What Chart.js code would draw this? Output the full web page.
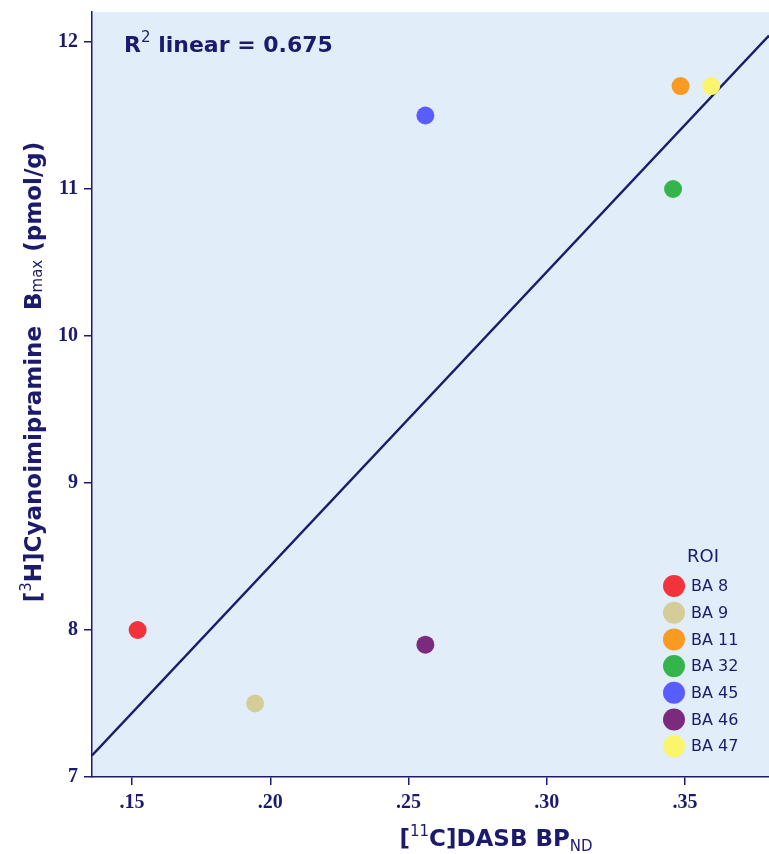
<!DOCTYPE html>
<html>
<head>
<meta charset="utf-8">
<script src="https://cdn.jsdelivr.net/npm/chart.js@4.4.0/dist/chart.umd.min.js"></script>
<style>
  html, body { margin: 0; padding: 0; background: #fff; overflow: hidden; }
  canvas { display: block; }
</style>
</head>
<body>
<canvas id="myChart" width="769" height="854"></canvas>
<script>
// data
const roiLabels = ['BA 8', 'BA 9', 'BA 11', 'BA 32', 'BA 45', 'BA 46', 'BA 47'];
const dasbBP = [0.152, 0.1945, 0.3484, 0.3457, 0.2561, 0.2561, 0.3595];
const bmax = [8.0, 7.5, 11.7, 11.0, 11.5, 7.9, 11.7];
const roiColors = ['#f1333b', '#d5cd97', '#f99a22', '#34b54b', '#5a5dfe', '#7c2a7e', '#fbf56b'];
const xTicks = [0.15, 0.20, 0.25, 0.30, 0.35];
const yTicks = [7, 8, 9, 10, 11, 12];
const xRange = [0.1355, 0.3804];
const yRange = [7, 12.204];
const r2Text = '0.675'; // as printed on the figure

const NAVY = '#1b1a6c';
const BG = '#e2edfa';

// least squares fit
function linFit(xs, ys) {
  const n = xs.length;
  const mx = xs.reduce((a, b) => a + b, 0) / n;
  const my = ys.reduce((a, b) => a + b, 0) / n;
  let sxy = 0, sxx = 0;
  for (let i = 0; i < n; i++) {
    sxy += (xs[i] - mx) * (ys[i] - my);
    sxx += (xs[i] - mx) * (xs[i] - mx);
  }
  const slope = sxy / sxx;
  return { slope: slope, icpt: my - slope * mx };
}
const fit = linFit(dasbBP, bmax);
const fitLine = xRange.map(x => ({ x: x, y: fit.icpt + fit.slope * x }));

const datasets = roiLabels.map((lab, i) => ({
  label: lab,
  data: [{ x: dasbBP[i], y: bmax[i] }],
  backgroundColor: roiColors[i],
  borderWidth: 0,
  pointRadius: 9,
  pointHoverRadius: 9,
}));
datasets.push({
  type: 'line',
  label: 'fit',
  data: fitLine,
  borderColor: NAVY,
  borderWidth: 2.5,
  pointRadius: 0,
  fill: false,
});

// draw runs of text with sup/sub parts
function drawRich(ctx, parts, x, y, align) {
  let total = 0;
  parts.forEach(p => { ctx.font = p.font; total += ctx.measureText(p.t).width; });
  let cx = align === 'center' ? x - total / 2 : x;
  parts.forEach(p => {
    ctx.font = p.font;
    ctx.fillText(p.t, cx, y + (p.dy || 0));
    cx += ctx.measureText(p.t).width;
  });
}

const decor = {
  id: 'decor',
  beforeDraw(chart) {
    const { ctx, chartArea: a } = chart;
    ctx.save();
    ctx.fillStyle = BG;
    ctx.fillRect(a.left, a.top, a.right - a.left, a.bottom - a.top);
    ctx.restore();
  },
  afterDraw(chart) {
    const { ctx } = chart;
    ctx.save();
    ctx.fillStyle = NAVY;
    ctx.textBaseline = 'alphabetic';
    const B = 'bold 23px "DejaVu Sans"';
    const S = '15px "DejaVu Sans"';

    // R2 label
    drawRich(ctx, [
      { t: 'R', font: 'bold 22px "DejaVu Sans"' },
      { t: '2', font: '15px "DejaVu Sans"', dy: -10 },
      { t: ' linear = ' + r2Text, font: 'bold 22px "DejaVu Sans"' },
    ], 124, 52, 'left');

    // x title
    drawRich(ctx, [
      { t: '[', font: B },
      { t: '11', font: S, dy: -10 },
      { t: 'C]DASB BP', font: B },
      { t: 'ND', font: S, dy: 5 },
    ], 496, 846, 'center');

    // y title
    ctx.translate(41, 372);
    ctx.rotate(-Math.PI / 2);
    drawRich(ctx, [
      { t: '[', font: B },
      { t: '3', font: S, dy: -10 },
      { t: 'H]Cyanoimipramine  B', font: B },
      { t: 'max', font: S, dy: 1 },
      { t: ' (pmol/g)', font: B },
    ], 0, 0, 'center');
    ctx.restore();

    // legend
    ctx.save();
    ctx.fillStyle = NAVY;
    ctx.textAlign = 'center';
    ctx.textBaseline = 'middle';
    ctx.font = '18px "DejaVu Sans"';
    ctx.fillText('ROI', 703, 557);
    ctx.textAlign = 'left';
    ctx.font = '16px "DejaVu Sans"';
    roiLabels.forEach((lab, i) => {
      const cy = 586 + i * 26.7;
      ctx.beginPath();
      ctx.arc(674, cy, 11, 0, Math.PI * 2);
      ctx.fillStyle = roiColors[i];
      ctx.fill();
      ctx.fillStyle = NAVY;
      ctx.fillText(lab, 691, cy + 1);
    });
    ctx.restore();
  }
};

const tickFont = { family: '"Liberation Serif"', size: 20, weight: 'bold' };

const config = {
  type: 'scatter',
  data: { datasets: datasets },
  options: {
    responsive: false,
    animation: false,
    layout: { autoPadding: false, padding: { top: 12, right: 0, left: 0, bottom: 0 } },
    plugins: {
      legend: { display: false },
      tooltip: { enabled: false },
    },
    scales: {
      x: {
        type: 'linear',
        min: xRange[0],
        max: xRange[1],
        afterBuildTicks: (s) => { s.ticks = xTicks.map(v => ({ value: v })); },
        afterFit: (s) => { s.height = 77; s.paddingRight = 0; s.paddingLeft = 0; },
        ticks: {
          color: NAVY,
          font: tickFont,
          padding: 6,
          maxRotation: 0,
          callback: (v) => v.toFixed(2).replace(/^0/, ''),
        },
        grid: { drawOnChartArea: false, drawTicks: true, tickLength: 8, color: NAVY, lineWidth: 1.5 },
        border: { color: NAVY, width: 1.5 },
      },
      y: {
        type: 'linear',
        min: yRange[0],
        max: yRange[1],
        afterBuildTicks: (s) => { s.ticks = yTicks.map(v => ({ value: v })); },
        afterFit: (s) => { s.width = 92; s.paddingTop = 0; s.paddingBottom = 0; },
        ticks: {
          color: NAVY,
          font: tickFont,
          padding: 6,
          callback: (v) => String(v),
        },
        grid: { drawOnChartArea: false, drawTicks: true, tickLength: 8, color: NAVY, lineWidth: 1.5 },
        border: { color: NAVY, width: 1.5 },
      },
    },
  },
  plugins: [decor],
};

var ctx = document.getElementById('myChart').getContext('2d');
var myChart = new Chart(ctx, config);
</script>
</body>
</html>
